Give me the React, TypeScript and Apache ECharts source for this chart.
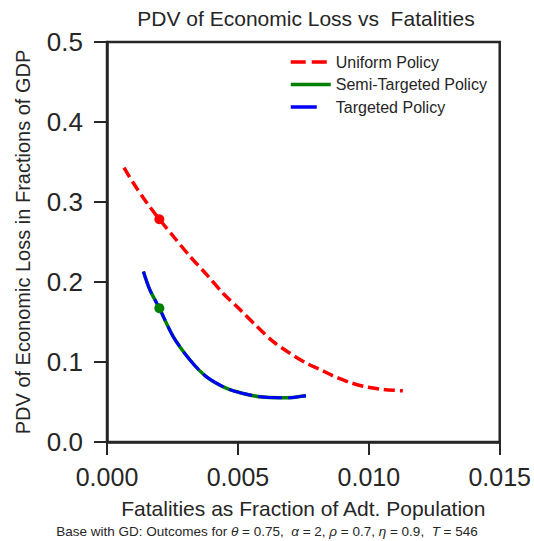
import React, { useEffect, useRef } from "react";
import * as echarts from "echarts";

const uniformX = [0.00065, 0.001, 0.0015, 0.002, 0.00253, 0.00317, 0.0038, 0.00444, 0.00508, 0.00571, 0.00635, 0.00699, 0.00762, 0.00813, 0.00864, 0.00927, 0.0099, 0.01055, 0.0113];
const uniformY = [0.343, 0.324, 0.3, 0.2784, 0.2572, 0.232, 0.2095, 0.1856, 0.1655, 0.1449, 0.1254, 0.1109, 0.0984, 0.0908, 0.0826, 0.0745, 0.0688, 0.0657, 0.064];

const semiX = [0.00139, 0.00164, 0.002, 0.00253, 0.00317, 0.0038, 0.00457, 0.0052, 0.00584, 0.0066, 0.0071, 0.0076];
const semiY = [0.2132, 0.19, 0.1673, 0.1317, 0.1025, 0.0815, 0.067, 0.0607, 0.0565, 0.0552, 0.0557, 0.0577];

const targetedX = [0.00139, 0.00164, 0.002, 0.00253, 0.00317, 0.0038, 0.00457, 0.0052, 0.00584, 0.0066, 0.0071, 0.0076];
const targetedY = [0.2132, 0.19, 0.1673, 0.1317, 0.1025, 0.0815, 0.067, 0.0607, 0.0565, 0.0552, 0.0557, 0.0577];

const uniformPoint = [0.002, 0.2784];
const semiPoint = [0.002, 0.1673];

const seriesNames = ["Uniform Policy", "Semi-Targeted Policy", "Targeted Policy"];

const zip = (xs: number[], ys: number[]) => xs.map((x, i) => [x, ys[i]]);

const FONT = "'Liberation Sans', Arial, sans-serif";
const INK = "#262626";

export default function App() {
  const ref = useRef<HTMLDivElement>(null);
  useEffect(() => {
    document.body.style.margin = "0";
    const chart = echarts.init(ref.current!, null, { renderer: "svg" });
    chart.setOption({
      animation: false,
      textStyle: { fontFamily: FONT, color: INK },
      title: {
        text: "PDV of Economic Loss vs  Fatalities",
        left: 301,
        textAlign: "center",
        top: 3,
        textStyle: { fontFamily: FONT, fontSize: 21, fontWeight: "normal", color: INK },
      },
      grid: {
        left: 107,
        right: 34,
        top: 42,
        bottom: 99,
        show: true,
        borderColor: INK,
        borderWidth: 2.5,
        backgroundColor: "#fff",
      },
      legend: {
        orient: "vertical",
        left: 289,
        top: 54,
        padding: 0,
        itemWidth: 40,
        itemHeight: 16,
        itemGap: 6.5,
        itemStyle: { color: "transparent", borderWidth: 0, opacity: 0 },
        lineStyle: { width: 3.5 },
        data: [
          { name: seriesNames[0], lineStyle: { type: [15, 6], width: 3.5 } },
          { name: seriesNames[1], lineStyle: { width: 3.5 } },
          { name: seriesNames[2], lineStyle: { type: [26, 20], width: 3.5 } },
        ],
        textStyle: { fontFamily: FONT, fontSize: 16, color: INK },
      },
      xAxis: {
        type: "value",
        min: 0,
        max: 0.015,
        interval: 0.005,
        name: "Fatalities as Fraction of Adt. Population",
        nameLocation: "middle",
        nameGap: 56,
        nameTextStyle: { fontFamily: FONT, fontSize: 21, color: INK },
        axisLine: { show: true, lineStyle: { color: INK, width: 2.5 } },
        axisTick: { show: true, length: 13, lineStyle: { color: INK, width: 2 } },
        axisLabel: {
          margin: 22,
          fontSize: 25,
          fontFamily: FONT,
          color: INK,
          formatter: (v: number) => v.toFixed(3),
        },
        splitLine: { show: false },
      },
      yAxis: {
        type: "value",
        min: 0,
        max: 0.5,
        interval: 0.1,
        name: "PDV of Economic Loss in Fractions of GDP",
        nameLocation: "middle",
        nameGap: 74,
        nameTextStyle: { fontFamily: FONT, fontSize: 20, color: INK },
        axisLine: { show: true, lineStyle: { color: INK, width: 2.5 } },
        axisTick: { show: true, length: 13, lineStyle: { color: INK, width: 2 } },
        axisLabel: {
          margin: 24,
          fontSize: 26,
          fontFamily: FONT,
          color: INK,
          formatter: (v: number) => v.toFixed(1),
        },
        splitLine: { show: false },
      },
      series: [
        {
          name: seriesNames[0],
          type: "line",
          data: zip(uniformX, uniformY),
          symbol: "none",
          smooth: 0.3,
          lineStyle: { color: "#ff0000", width: 3.5, type: [11, 5] },
          itemStyle: { color: "#ff0000" },
          z: 2,
        },
        {
          name: seriesNames[1],
          type: "line",
          data: zip(semiX, semiY),
          symbol: "none",
          smooth: 0.3,
          lineStyle: { color: "#008000", width: 3.5, type: "solid" },
          itemStyle: { color: "#008000" },
          z: 3,
        },
        {
          name: seriesNames[2],
          type: "line",
          data: zip(targetedX, targetedY),
          symbol: "none",
          smooth: 0.3,
          lineStyle: { color: "#0000ff", width: 3, type: [24, 6] },
          itemStyle: { color: "#0000ff" },
          z: 4,
        },
        {
          name: "uniformMarker",
          type: "scatter",
          data: [uniformPoint],
          symbolSize: 10,
          itemStyle: { color: "#ff0000", opacity: 1 },
          z: 5,
        },
        {
          name: "semiMarker",
          type: "scatter",
          data: [semiPoint],
          symbolSize: 10,
          itemStyle: { color: "#008000", opacity: 1 },
          z: 5,
        },
      ],
      graphic: [
        {
          type: "text",
          left: "center",
          top: 524,
          style: {
            text: "Base with GD: Outcomes for {i|θ} = 0.75,  {i|α} = 2, {i|ρ} = 0.7, {i|η} = 0.9,  {i|T} = 546",
            fontFamily: FONT,
            fontSize: 13.5,
            fill: INK,
            rich: {
              i: { fontFamily: FONT, fontSize: 13.5, fontStyle: "italic", fill: INK },
            },
          },
        },
      ],
    });
    return () => chart.dispose();
  }, []);
  return <div ref={ref} style={{ width: 534, height: 541 }} />;
}
